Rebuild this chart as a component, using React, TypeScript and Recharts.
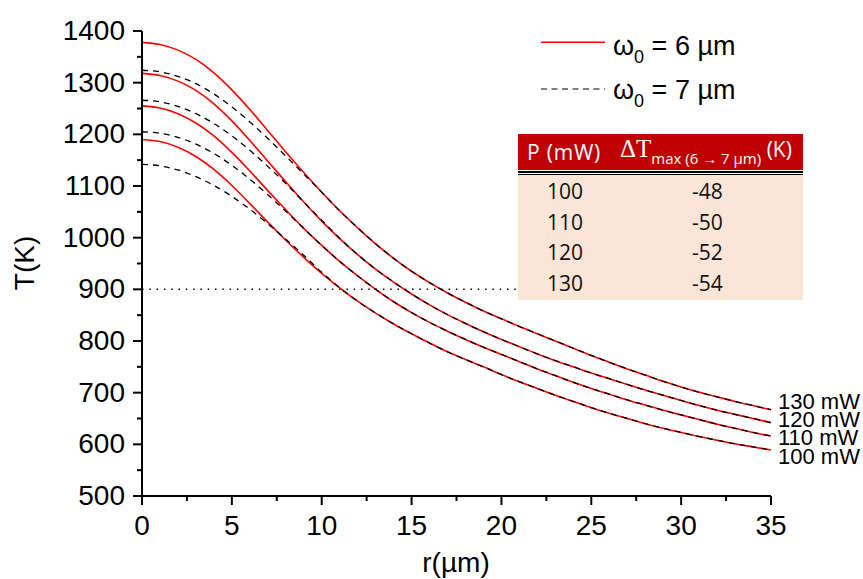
import React from 'react';
import { LineChart, Line, XAxis, YAxis, ReferenceLine } from 'recharts';

// radial position r (µm)
const rUm = [0, 1, 2, 3, 4, 5, 6, 7, 8, 9, 10, 11, 12, 13, 14, 15, 16, 17, 18, 19, 20, 21, 22, 23, 24, 25, 26, 27, 28, 29, 30, 31, 32, 33, 34, 35];

// w0 = 6 µm (solid red)
const red100 = [1190, 1186, 1175, 1157, 1132, 1101, 1066, 1030, 995, 962, 931, 903, 877, 854, 833, 814, 796, 779, 764, 750, 735, 721, 708, 695, 683, 671, 660, 650, 640, 631, 623, 615, 608, 601, 595, 589];
const red110 = [1255, 1251, 1240, 1222, 1197, 1165, 1129, 1091, 1054, 1018, 985, 954, 926, 900, 876, 855, 836, 819, 803, 788, 774, 760, 746, 733, 720, 708, 697, 686, 676, 666, 657, 648, 639, 631, 623, 616];
const red120 = [1318, 1314, 1303, 1285, 1259, 1226, 1188, 1148, 1108, 1069, 1032, 998, 967, 939, 914, 891, 870, 851, 834, 818, 803, 789, 775, 762, 750, 738, 727, 716, 705, 695, 685, 675, 666, 658, 650, 642];
const red130 = [1378, 1374, 1363, 1345, 1319, 1286, 1248, 1207, 1166, 1126, 1088, 1052, 1019, 988, 960, 935, 913, 893, 875, 858, 843, 828, 814, 800, 786, 772, 759, 746, 734, 722, 711, 701, 692, 683, 675, 667];

// w0 = 7 µm (dashed black)
const dash100 = [1142, 1139, 1131, 1118, 1101, 1080, 1055, 1027, 997, 966, 933, 903, 877, 854, 833, 814, 796, 779, 764, 750, 735, 721, 708, 695, 683, 671, 660, 650, 640, 631, 623, 615, 608, 601, 595, 589];
const dash110 = [1205, 1202, 1194, 1181, 1163, 1140, 1113, 1083, 1051, 1018, 985, 954, 926, 900, 876, 855, 836, 819, 803, 788, 774, 760, 746, 733, 720, 708, 697, 686, 676, 666, 657, 648, 639, 631, 623, 616];
const dash120 = [1266, 1263, 1254, 1240, 1221, 1197, 1169, 1138, 1105, 1069, 1034, 999, 967, 939, 914, 891, 870, 851, 834, 818, 803, 789, 775, 762, 750, 738, 727, 716, 705, 695, 685, 675, 666, 658, 650, 642];
const dash130 = [1324, 1321, 1312, 1298, 1278, 1253, 1224, 1192, 1158, 1123, 1088, 1052, 1019, 988, 960, 935, 913, 893, 875, 858, 843, 828, 814, 800, 786, 772, 759, 746, 734, 722, 711, 701, 692, 683, 675, 667];

const xTicks = [0, 2.5, 5, 7.5, 10, 12.5, 15, 17.5, 20, 22.5, 25, 27.5, 30, 32.5, 35];
const yTicks = [500, 550, 600, 650, 700, 750, 800, 850, 900, 950, 1000, 1050, 1100, 1150, 1200, 1250, 1300, 1350, 1400];

const powerLabels = ['130 mW', '120 mW', '110 mW', '100 mW'];
const tablePower = ['100', '110', '120', '130'];
const tableDelta = ['-48', '-50', '-52', '-54'];

const data = rUm.map((r, i) => ({
  r,
  red100: red100[i], red110: red110[i], red120: red120[i], red130: red130[i],
  dash100: dash100[i], dash110: dash110[i], dash120: dash120[i], dash130: dash130[i],
}));

const FONT = '"Liberation Sans", Arial, sans-serif';

const YTick = (props: any) => {
  const { x, y, payload } = props;
  const major = payload.value % 100 === 0;
  return (
    <g>
      <line x1={x - (major ? 9 : 5)} x2={x} y1={y} y2={y} stroke="#000" strokeWidth={2} />
      {major && (
        <text x={x - 17} y={y} dy={9} textAnchor="end" fontSize={28} fontFamily={FONT} fill="#000">
          {payload.value}
        </text>
      )}
    </g>
  );
};

const XTick = (props: any) => {
  const { x, y, payload } = props;
  const major = payload.value % 5 === 0;
  return (
    <g>
      <line x1={x} x2={x} y1={y} y2={y + (major ? 9 : 5)} stroke="#000" strokeWidth={2} />
      {major && (
        <text x={x} y={y + 39} textAnchor="middle" fontSize={28} fontFamily={FONT} fill="#000">
          {payload.value}
        </text>
      )}
    </g>
  );
};

export default function App() {
  const redLines = ['red100', 'red110', 'red120', 'red130'];
  const dashLines = ['dash100', 'dash110', 'dash120', 'dash130'];
  return (
    <div style={{ position: 'absolute', left: 0, top: 0, width: 863, height: 579, background: '#fff' }}>
      <LineChart width={863} height={579} data={data} margin={{ top: 31, right: 92, left: 0, bottom: 0 }}>
        <XAxis
          dataKey="r"
          type="number"
          domain={[0, 35]}
          ticks={xTicks}
          interval={0}
          height={83}
          tickSize={0}
          tickMargin={0}
          tickLine={false}
          tick={<XTick />}
          axisLine={{ stroke: '#000', strokeWidth: 2 }}
        />
        <YAxis
          type="number"
          domain={[500, 1400]}
          ticks={yTicks}
          interval={0}
          width={142}
          tickSize={0}
          tickMargin={0}
          tickLine={false}
          tick={<YTick />}
          axisLine={{ stroke: '#000', strokeWidth: 2 }}
        />
        <ReferenceLine y={900} stroke="#000" strokeWidth={1.5} strokeDasharray="1.5 5.8" />
        {redLines.map((k) => (
          <Line key={k} dataKey={k} type="monotone" stroke="#ff0000" strokeWidth={1.6} dot={false} isAnimationActive={false} />
        ))}
        {dashLines.map((k) => (
          <Line key={k} dataKey={k} type="monotone" stroke="#000" strokeWidth={1.3} strokeDasharray="6 5" dot={false} isAnimationActive={false} />
        ))}
      </LineChart>

      <svg width={863} height={579} style={{ position: 'absolute', left: 0, top: 0, pointerEvents: 'none' }}>
        <text x={0} y={0} transform="translate(34,263) rotate(-90)" textAnchor="middle" fontSize={28} fontFamily={FONT}>T(K)</text>
        <text x={456} y={572} textAnchor="middle" fontSize={28} fontFamily={FONT}>r(µm)</text>

        <line x1={541} x2={605} y1={42.3} y2={42.3} stroke="#ff0000" strokeWidth={1.5} />
        <text x={613} y={55} fontSize={27} fontFamily={FONT}>
          ω<tspan fontSize={18} dy={8}>0</tspan><tspan dy={-8}> = 6 µm</tspan>
        </text>
        <line x1={541} x2={605} y1={89} y2={89} stroke="#000" strokeWidth={1.2} strokeDasharray="6 4.5" />
        <text x={613} y={98.5} fontSize={27} fontFamily={FONT}>
          ω<tspan fontSize={18} dy={8}>0</tspan><tspan dy={-8}> = 7 µm</tspan>
        </text>

        {powerLabels.map((t, i) => (
          <text key={t} x={778} y={409 + i * 18.2} fontSize={22} fontFamily={FONT}>{t}</text>
        ))}
      </svg>

      <div style={{ position: 'absolute', left: 518, top: 134, width: 285, fontFamily: '"Open Sans", sans-serif' }}>
        <div style={{ height: 36, background: '#c00000', color: '#fff', position: 'relative' }}>
          <span style={{ position: 'absolute', left: 9, top: 4, fontSize: 21, letterSpacing: 0.8 }}>P (mW)</span>
          <span style={{ position: 'absolute', left: 102, top: 1, fontSize: 25, fontFamily: '"Liberation Serif", serif', whiteSpace: 'nowrap' }}>
            ΔT
            <span style={{ fontFamily: '"Open Sans", sans-serif', fontSize: 15, position: 'relative', top: 7 }}>max (6 → 7 µm)</span>
            <span style={{ fontFamily: '"Open Sans", sans-serif', fontSize: 21 }}> (K)</span>
          </span>
        </div>
        <div style={{ height: 1, background: '#fff' }} />
        <div style={{ height: 2, background: '#000' }} />
        <div style={{ height: 1, background: '#fff' }} />
        <div style={{ height: 1, background: '#000' }} />
        <div style={{ background: '#fbe5d6', height: 123, paddingTop: 2 }}>
          {tablePower.map((p, i) => (
            <div key={p} style={{ height: 30.7, position: 'relative', fontSize: 21, color: '#111' }}>
              <span style={{ position: 'absolute', left: 29, top: 0 }}>{p}</span>
              <span style={{ position: 'absolute', left: 174, top: 0 }}>{tableDelta[i]}</span>
            </div>
          ))}
        </div>
      </div>
    </div>
  );
}
